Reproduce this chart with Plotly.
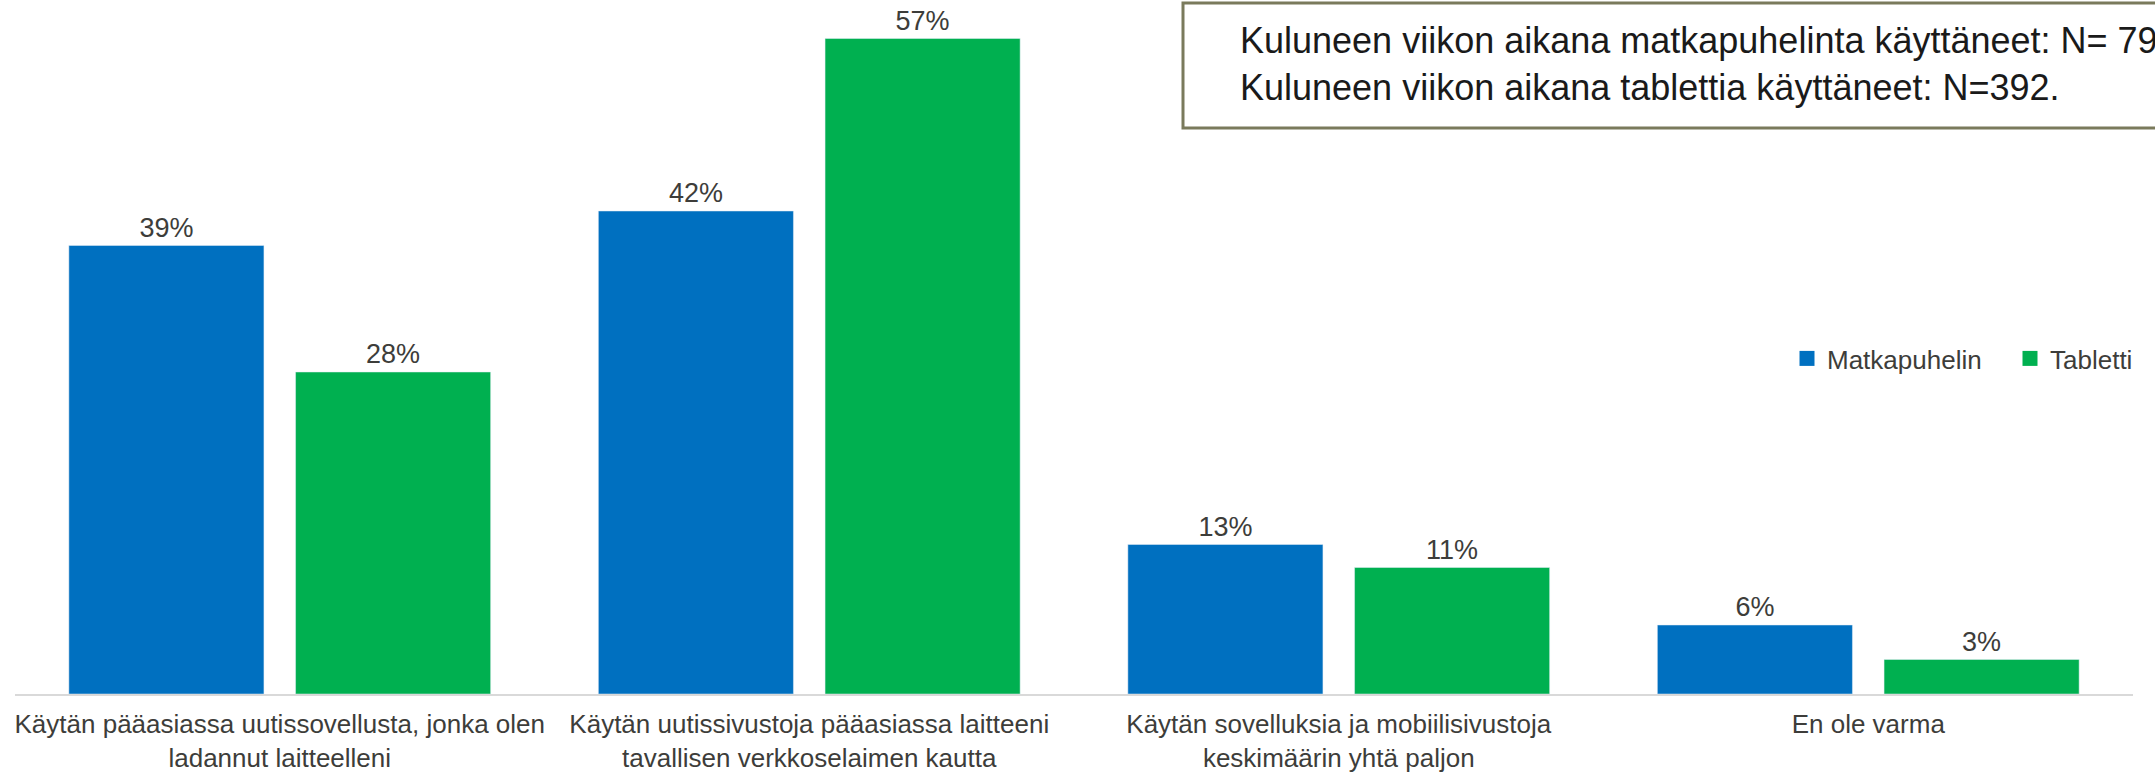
import plotly.graph_objects as go

categories = [
    "Käytän pääasiassa uutissovellusta, jonka olen<br>ladannut laitteelleni",
    "Käytän uutissivustoja pääasiassa laitteeni<br>tavallisen verkkoselaimen kautta",
    "Käytän sovelluksia ja mobiilisivustoja<br>keskimäärin yhtä paljon",
    "En ole varma",
]
series_names = ["Matkapuhelin", "Tabletti"]
matkapuhelin = [39, 42, 13, 6]
tabletti = [28, 57, 11, 3]
colors = ["#0070C0", "#00B050"]
note_lines = [
    "Kuluneen viikon aikana matkapuhelinta käyttäneet: N= 79",
    "Kuluneen viikon aikana tablettia käyttäneet: N=392.",
]

FONT = "Liberation Sans, Arial, sans-serif"
TXT = "#3d3d3a"

W, H = 2155, 775
ML, MR, MT, MB = 15, 22, 4, 81
PW, PH = W - ML - MR, H - MT - MB

def px_x(p):
    return (p - ML) / PW

def px_y(p):
    return (H - MB - p) / PH

fig = go.Figure()
for name, vals, col in zip(series_names, [matkapuhelin, tabletti], colors):
    fig.add_trace(go.Bar(
        name=name, x=categories, y=vals, marker_color=col,
        text=[f"{v}%" for v in vals], textposition="outside",
        textfont=dict(size=27, color=TXT, family=FONT),
        cliponaxis=False, showlegend=False,
    ))
# legend entries with square swatches
for name, col in zip(series_names, colors):
    fig.add_trace(go.Scatter(
        name=name, x=[None], y=[None], mode="markers",
        marker=dict(symbol="square", size=15, color=col),
        showlegend=True, hoverinfo="skip",
    ))

fig.update_layout(
    width=W, height=H,
    margin=dict(l=ML, r=MR, t=MT, b=MB, autoexpand=False),
    paper_bgcolor="white", plot_bgcolor="white",
    barmode="group", bargap=0.1437, bargroupgap=0.1395,
    font=dict(family=FONT, color=TXT),
    showlegend=True,
    legend=dict(orientation="h", x=px_x(1787), xanchor="left",
                y=px_y(358.5), yanchor="middle",
                font=dict(size=26, color=TXT, family=FONT), itemwidth=30,
                entrywidth=178, entrywidthmode="pixels",
                bgcolor="rgba(0,0,0,0)"),
    xaxis=dict(showline=True, linecolor="#d9d9d9", linewidth=2, ticks="",
               tickfont=dict(size=26, color=TXT, family=FONT), ticklabelstandoff=6,
               showgrid=False, automargin=False),
    yaxis=dict(range=[0, 60], visible=False, showgrid=False, automargin=False),
)

fig.add_shape(type="rect", xref="paper", yref="paper",
              x0=px_x(1183), x1=1.2, y0=px_y(128), y1=px_y(3),
              line=dict(color="#7a7a5c", width=3), fillcolor="rgba(0,0,0,0)")
fig.add_annotation(xref="paper", yref="paper", x=px_x(1238), y=px_y(64),
                   xanchor="left", yanchor="middle", align="left", showarrow=False,
                   text="<br>".join(note_lines),
                   font=dict(size=36, color="#1a1a1a", family=FONT))

fig.write_html(
    "out.html",
    config={"displayModeBar": False},
    post_script="document.body.style.margin='0';document.body.style.overflow='hidden';",
)
